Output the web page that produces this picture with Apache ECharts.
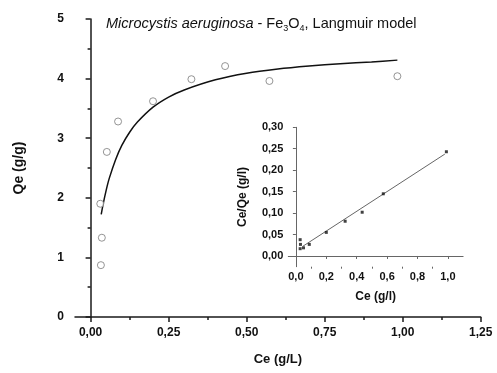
<!DOCTYPE html>
<html>
<head>
<meta charset="utf-8">
<script src="https://cdn.jsdelivr.net/npm/echarts@6.0.0/dist/echarts.min.js"></script>
<style>
  html, body { margin: 0; padding: 0; background: #fff; }
  #chart { width: 497px; height: 373px; }
</style>
</head>
<body>
<div id="chart"></div>
<script>
// Adsorption isotherm: equilibrium concentration Ce vs uptake Qe
const ceObs = [0.031, 0.036, 0.033, 0.052, 0.088, 0.200, 0.323, 0.431, 0.573, 0.983];
const qeObs = [1.90, 1.33, 0.87, 2.77, 3.28, 3.62, 3.99, 4.21, 3.96, 4.04];

// Langmuir model curve
const ceFit = [0.034, 0.040, 0.050, 0.060, 0.080, 0.100, 0.125, 0.150, 0.200, 0.250, 0.300, 0.400, 0.500, 0.600, 0.700, 0.800, 0.900, 0.983];
const qeFit = [1.72, 1.89, 2.13, 2.33, 2.64, 2.88, 3.10, 3.27, 3.52, 3.69, 3.81, 3.98, 4.09, 4.16, 4.21, 4.25, 4.28, 4.31];

// Linearised form (inset): Ce/Qe vs Ce
const ceLin = [0.028, 0.030, 0.028, 0.050, 0.088, 0.200, 0.324, 0.436, 0.575, 0.990];
const ratioLin = [0.038, 0.027, 0.017, 0.019, 0.027, 0.055, 0.081, 0.102, 0.145, 0.243];
const ceLinFit = [0.046, 0.980];
const ratioLinFit = [0.0227, 0.2376];

// Tick positions
const mainXLabels = [0, 0.25, 0.5, 0.75, 1.0, 1.25];
const mainXMinor = [0.125, 0.375, 0.625, 0.875, 1.125];
const insetXLabels = [0, 0.2, 0.4, 0.6, 0.8, 1.0];
const insetXMinor = [0.1, 0.3, 0.5, 0.7, 0.9];
const insetYLabels = [0, 0.05, 0.10, 0.15, 0.20, 0.25, 0.30];

const FONT = 'Liberation Sans, Arial, Helvetica, sans-serif';
const zip = (a, b) => a.map((v, i) => [v, b[i]]);
const comma = d => v => v.toFixed(d).replace('.', ',');

const axisLineStyle = { color: '#1a1a1a', width: 1.5 };
const insetLineStyle = { color: '#666', width: 1 };

const chart = echarts.init(document.getElementById('chart'), null, { renderer: 'canvas' });

chart.setOption({
  animation: false,
  backgroundColor: '#fff',
  title: {
    left: 101, top: 9,
    text: '{i|Microcystis aeruginosa}{n| - Fe}{s|3}{n|O}{s|4}{n|, Langmuir model}',
    textStyle: {
      fontWeight: 'normal',
      rich: {
        i: { fontFamily: FONT, fontSize: 14.5, fontStyle: 'italic', fontWeight: 'normal', color: '#111', lineHeight: 19, verticalAlign: 'middle' },
        n: { fontFamily: FONT, fontSize: 14.5, fontWeight: 'normal', color: '#111', lineHeight: 19, verticalAlign: 'middle' },
        s: { fontFamily: FONT, fontSize: 9, fontWeight: 'normal', color: '#111', lineHeight: 19, verticalAlign: 'bottom' }
      }
    }
  },
  grid: [
    { left: 75, top: 19, width: 405.7, height: 298 },
    { left: 288.3, top: 127.3, width: 174.8, height: 139.4 }
  ],
  xAxis: [
    {
      gridIndex: 0, type: 'value', position: 'bottom', min: -0.05, max: 1.25,
      name: 'Ce (g/L)', nameLocation: 'middle', nameGap: 36,
      nameTextStyle: { fontFamily: FONT, fontSize: 13, fontWeight: 'bold', color: '#111' },
      axisLine: { show: true, lineStyle: axisLineStyle },
      axisTick: { show: true, length: 5, lineStyle: axisLineStyle, customValues: mainXLabels },
      axisLabel: { customValues: mainXLabels, formatter: comma(2), margin: 10, fontFamily: FONT, fontSize: 12, fontWeight: 'bold', color: '#111' },
      splitLine: { show: false }
    },
    {
      gridIndex: 0, type: 'value', position: 'bottom', min: -0.05, max: 1.25,
      axisLine: { show: false },
      axisTick: { show: true, length: 3, lineStyle: axisLineStyle, customValues: mainXMinor },
      axisLabel: { show: false },
      splitLine: { show: false }
    },
    {
      gridIndex: 1, type: 'value', position: 'bottom', min: -0.05, max: 1.1,
      name: 'Ce (g/l)', nameLocation: 'middle', nameGap: 24,
      nameTextStyle: { fontFamily: FONT, fontSize: 12, fontWeight: 'bold', color: '#111' },
      axisLine: { show: true, lineStyle: insetLineStyle },
      axisTick: { show: true, length: 3, lineStyle: insetLineStyle, customValues: insetXLabels },
      axisLabel: { customValues: insetXLabels, formatter: comma(1), margin: 5, fontFamily: FONT, fontSize: 11, fontWeight: 'bold', color: '#111' },
      splitLine: { show: false }
    },
    {
      gridIndex: 1, type: 'value', position: 'bottom', min: -0.05, max: 1.1,
      axisLine: { show: false },
      axisTick: { show: true, length: 2, lineStyle: insetLineStyle, customValues: insetXMinor },
      axisLabel: { show: false },
      splitLine: { show: false }
    }
  ],
  yAxis: [
    {
      gridIndex: 0, type: 'value', min: 0, max: 5, interval: 1,
      name: 'Qe (g/g)', nameLocation: 'middle', nameGap: 49,
      nameTextStyle: { fontFamily: FONT, fontSize: 14, fontWeight: 'bold', color: '#111' },
      axisLine: { show: true, lineStyle: axisLineStyle },
      axisTick: { show: true, length: 5, lineStyle: axisLineStyle },
      minorTick: { show: true, splitNumber: 2, length: 3, lineStyle: axisLineStyle },
      axisLabel: { formatter: comma(0), margin: 11, fontFamily: FONT, fontSize: 12, fontWeight: 'bold', color: '#111' },
      splitLine: { show: false }
    },
    {
      gridIndex: 1, type: 'value', min: -0.025, max: 0.30,
      name: 'Ce/Qe (g/l)', nameLocation: 'middle', nameGap: 40,
      nameTextStyle: { fontFamily: FONT, fontSize: 12, fontWeight: 'bold', color: '#111' },
      axisLine: { show: true, lineStyle: insetLineStyle },
      axisTick: { show: true, length: 3, lineStyle: insetLineStyle, customValues: insetYLabels },
      axisLabel: { customValues: insetYLabels, formatter: comma(2), margin: 5, fontFamily: FONT, fontSize: 11, fontWeight: 'bold', color: '#111' },
      splitLine: { show: false }
    }
  ],
  series: [
    {
      type: 'line', xAxisIndex: 0, yAxisIndex: 0,
      data: zip(ceFit, qeFit), smooth: 0.3, showSymbol: false,
      lineStyle: { color: '#111', width: 1.5 }, z: 3
    },
    {
      type: 'scatter', xAxisIndex: 0, yAxisIndex: 0,
      data: zip(ceObs, qeObs), symbol: 'circle', symbolSize: 7,
      itemStyle: { color: '#fff', borderColor: '#7a7a7a', borderWidth: 1 }, z: 4
    },
    {
      type: 'line', xAxisIndex: 2, yAxisIndex: 1,
      data: zip(ceLinFit, ratioLinFit), showSymbol: false,
      lineStyle: { color: '#666', width: 1 }, z: 3
    },
    {
      type: 'scatter', xAxisIndex: 2, yAxisIndex: 1,
      data: zip(ceLin, ratioLin), symbol: 'rect', symbolSize: 3,
      itemStyle: { color: '#111' }, z: 4
    }
  ]
});
</script>
</body>
</html>
